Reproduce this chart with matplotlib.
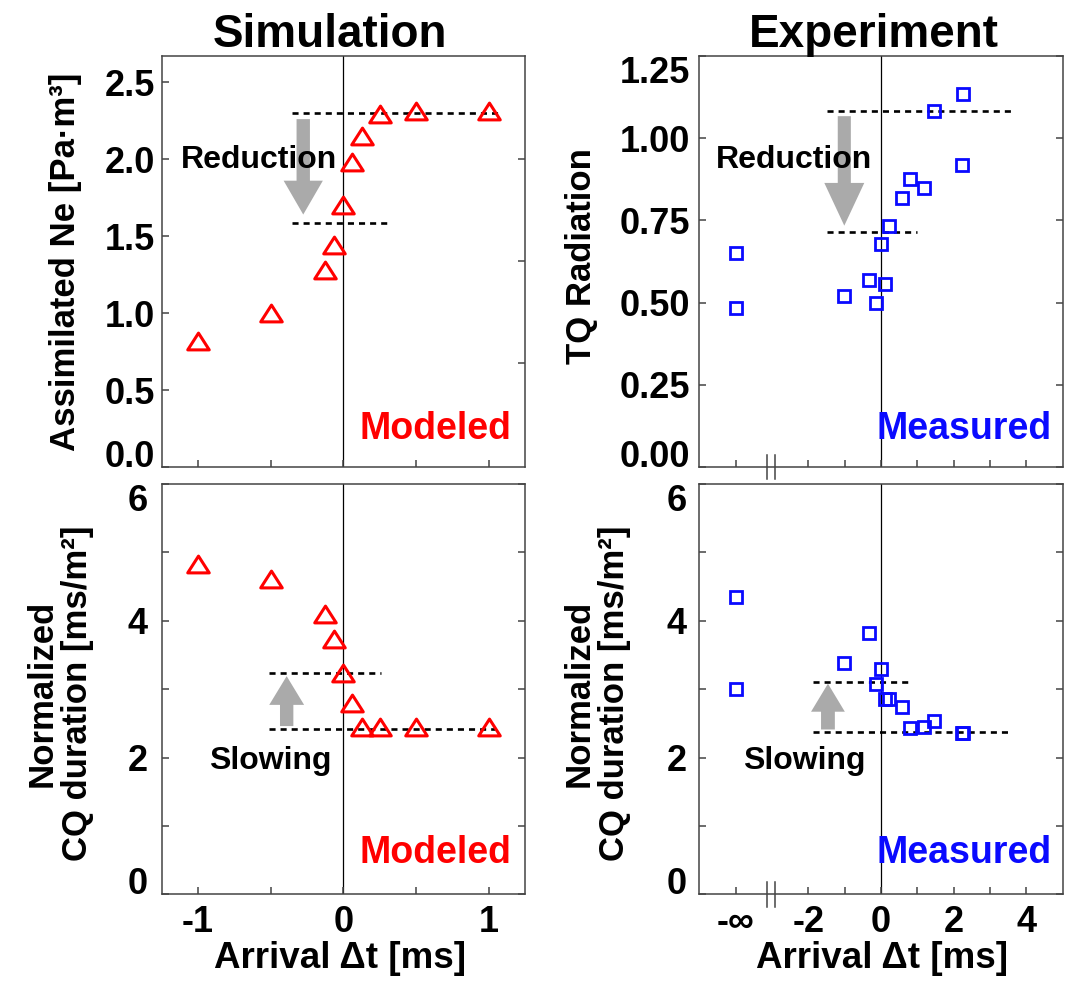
import matplotlib
matplotlib.use('Agg')
import matplotlib.pyplot as plt
import matplotlib.transforms as mtransforms
from matplotlib.patches import FancyArrow
from matplotlib.path import Path

# ---- data ----
# simulation: arrival dt [ms]
sim_dt = [-1.0, -0.5, -0.125, -0.0625, 0.0, 0.0625, 0.125, 0.25, 0.5, 1.0]
sim_ne = [0.82, 1.00, 1.28, 1.44, 1.70, 1.98, 2.15, 2.29, 2.31, 2.31]
sim_cq = [4.83, 4.61, 4.10, 3.74, 3.23, 2.80, 2.44, 2.44, 2.44, 2.44]

# experiment: -4 on the axis stands for -inf
exp_dt  = [-4, -4, -1.03, -0.32, -0.15, 0.11, 0.0, 0.22, 0.58, 0.79, 1.19, 2.23, 1.45, 2.26]
exp_rad = [0.65, 0.485, 0.521, 0.569, 0.499, 0.556, 0.678, 0.732, 0.817, 0.876, 0.849, 0.917, 1.083, 1.133]
exp_cq  = [4.35, 3.00, 3.38, 3.82, 3.07, 2.855, 3.29, 2.85, 2.74, 2.43, 2.45, 2.36, 2.53, 2.36]

# dashed reference levels: (level, x start, x end)
sim_ne_refs = [(2.30, -0.356, 1.08), (1.584, -0.356, 0.30)]
sim_cq_refs = [(3.235, -0.51, 0.26), (2.417, -0.51, 1.046)]
exp_rad_refs = [(1.084, -1.48, 3.67), (0.716, -1.49, 1.0)]
exp_cq_refs = [(3.11, -1.87, 0.79), (2.37, -1.87, 3.53)]

# grey arrows: (x, from, to)
sim_ne_arrow = (-0.276, 2.26, 1.64)
sim_cq_arrow = (-0.39, 2.46, 3.19)
exp_rad_arrow = (-1.01, 1.067, 0.734)
exp_cq_arrow = (-1.46, 2.41, 3.08)

x_ticks_sim = [-1, -0.5, 0, 0.5, 1]
x_labels_sim = ['-1', '', '0', '', '1']
x_ticks_exp = [-4, -2, -1, 0, 1, 2, 3, 4]
x_labels_exp = ['-\u221e', '-2', '', '0', '', '2', '', '4']

W, H = 1069, 981
FRAME = '#444444'
RED = '#ff0000'
BLUE = '#0a0aff'
GREY = '#aaaaaa'

plt.rcParams['font.family'] = ['Liberation Sans', 'DejaVu Sans']
plt.rcParams['font.weight'] = 'bold'

fig = plt.figure(figsize=(W / 100, H / 100), dpi=100)


def box(l, t, r, b):
    return [l / W, 1 - b / H, (r - l) / W, (b - t) / H]


def ftext(x, y, s, **kw):
    return fig.text(x / W, 1 - y / H, s, **kw)


ax_tl = fig.add_axes(box(161.7, 56, 525, 467))
ax_tr = fig.add_axes(box(699.3, 56, 1062.7, 467))
ax_bl = fig.add_axes(box(161.7, 484, 525, 894.3))
ax_br = fig.add_axes(box(699.3, 484, 1062.7, 894.3))

tri = Path([(0, 0.78), (-1, -0.78), (1, -0.78), (0, 0.78)],
           [Path.MOVETO, Path.LINETO, Path.LINETO, Path.CLOSEPOLY])


def style(ax, ypad):
    for s in ax.spines.values():
        s.set_color(FRAME)
        s.set_linewidth(1.1)
    ax.tick_params(direction='in', length=5, width=1.1, color=FRAME,
                   top=False, right=True, labelsize=26, pad=ypad)
    ax.tick_params(axis='x', pad=8)
    ax.axvline(0, color='black', lw=0.9, zorder=1)


def pin_end_labels(ax, first='baseline', last='top'):
    ticks = ax.yaxis.get_major_ticks()
    if first:
        ticks[0].label1.set_va(first)
    if last:
        ticks[-1].label1.set_va(last)


def refs(ax, lines):
    for lev, x0, x1 in lines:
        ax.plot([x0, x1], [lev, lev], color='black', lw=1.9,
                linestyle=(0, (2.3, 1.9)), zorder=2)


def arrow(ax, a, w, hw, hl):
    x, y0, y1 = a
    ax.add_patch(FancyArrow(x, y0, 0, y1 - y0, width=w, head_width=hw,
                            head_length=hl, length_includes_head=True,
                            color=GREY, lw=0, zorder=1.5))


def axis_break(ax):
    tr = mtransforms.blended_transform_factory(ax.transData, ax.transAxes)
    for xb in (-3.13, -2.92):
        ax.plot([xb, xb], [-0.03, 0.03], transform=tr, color=FRAME,
                lw=1.1, clip_on=False, zorder=5)


# ---- simulation panels ----
for ax, yv in ((ax_tl, sim_ne), (ax_bl, sim_cq)):
    ax.plot(sim_dt, yv, linestyle='none', marker=tri, markersize=15.5,
            markerfacecolor='none', markeredgecolor=RED, markeredgewidth=2.2,
            zorder=3)
    ax.set_xlim(-1.25, 1.25)
    ax.set_xticks(x_ticks_sim)

ax_tl.set_ylim(0, 2.67)
ax_tl.set_yticks([0, 0.5, 1.0, 1.5, 2.0, 2.5])
ax_tl.set_yticklabels(['0.0', '0.5', '1.0', '1.5', '2.0', '2.5'])
ax_tl.set_xticklabels([])
refs(ax_tl, sim_ne_refs)
arrow(ax_tl, sim_ne_arrow, 0.092, 0.27, 0.22)

ax_bl.set_ylim(0, 6)
ax_bl.set_yticks([0, 1, 2, 3, 4, 5, 6])
ax_bl.set_yticklabels(['0', '', '2', '', '4', '', '6'])
ax_bl.set_xticklabels(x_labels_sim)
refs(ax_bl, sim_cq_refs)
arrow(ax_bl, sim_cq_arrow, 0.092, 0.24, 0.42)

# ---- experiment panels ----
for ax, yv in ((ax_tr, exp_rad), (ax_br, exp_cq)):
    ax.plot(exp_dt, yv, linestyle='none', marker='s', markersize=9,
            markerfacecolor='none', markeredgecolor=BLUE, markeredgewidth=2.0,
            zorder=3)
    ax.set_xlim(-5, 5)
    ax.set_xticks(x_ticks_exp)

ax_tr.set_ylim(0, 1.25)
ax_tr.set_yticks([0, 0.25, 0.5, 0.75, 1.0, 1.25])
ax_tr.set_yticklabels(['0.00', '0.25', '0.50', '0.75', '1.00', '1.25'])
ax_tr.set_xticklabels([])
refs(ax_tr, exp_rad_refs)
arrow(ax_tr, exp_rad_arrow, 0.36, 1.1, 0.13)

ax_br.set_ylim(0, 6)
ax_br.set_yticks([0, 1, 2, 3, 4, 5, 6])
ax_br.set_yticklabels(['0', '', '2', '', '4', '', '6'])
ax_br.set_xticklabels(x_labels_exp)
refs(ax_br, exp_cq_refs)
arrow(ax_br, exp_cq_arrow, 0.38, 0.93, 0.41)

style(ax_tl, 4.8)
style(ax_tr, 6.5)
style(ax_bl, 10)
style(ax_br, 9)
pin_end_labels(ax_tl, 'baseline', None)
pin_end_labels(ax_tr, 'baseline', 'top')
pin_end_labels(ax_bl, 'baseline', 'top')
pin_end_labels(ax_br, 'baseline', 'top')
axis_break(ax_tr)
axis_break(ax_br)

# right-hand ticks of the top-left panel sit at their own spots
ax_tl.tick_params(right=False)
tw = ax_tl.twinx()
tw.set_ylim(ax_tl.get_ylim())
tw.set_yticks([2.0, 1.337, 0.675])
tw.set_yticklabels([])
tw.tick_params(direction='in', length=5, width=1.1, color=FRAME)
for s in tw.spines.values():
    s.set_visible(False)

# ---- text ----
ftext(330, 47, 'Simulation', ha='center', va='baseline', fontsize=33)
ftext(874, 47, 'Experiment', ha='center', va='baseline', fontsize=33)

ftext(66, 262, 'Assimilated Ne [Pa\u00b7m\u00b3]', rotation=90,
      ha='center', va='center', fontsize=25)
ftext(581, 256, 'TQ Radiation', rotation=90, ha='center', va='center',
      fontsize=25)
for xc in (60, 597):
    ftext(xc, 693, 'Normalized\nCQ duration [ms/m\u00b2]', rotation=90,
          ha='center', va='center', multialignment='center', linespacing=1.08,
          fontsize=25)

for xc in (340, 882):
    ftext(xc, 968, 'Arrival \u0394t [ms]', ha='center', va='baseline',
          fontsize=26.5)

ftext(181, 168, 'Reduction', ha='left', va='baseline', fontsize=23)
ftext(716, 168, 'Reduction', ha='left', va='baseline', fontsize=23)
ftext(209, 769, 'Slowing', ha='left', va='baseline', fontsize=23)
ftext(743, 769, 'Slowing', ha='left', va='baseline', fontsize=23)

ftext(511, 439, 'Modeled', ha='right', va='baseline', fontsize=27, color=RED)
ftext(511, 863, 'Modeled', ha='right', va='baseline', fontsize=27, color=RED)
ftext(1052, 439, 'Measured', ha='right', va='baseline', fontsize=27, color=BLUE)
ftext(1052, 863, 'Measured', ha='right', va='baseline', fontsize=27, color=BLUE)

fig.savefig('out.png', dpi=100)
